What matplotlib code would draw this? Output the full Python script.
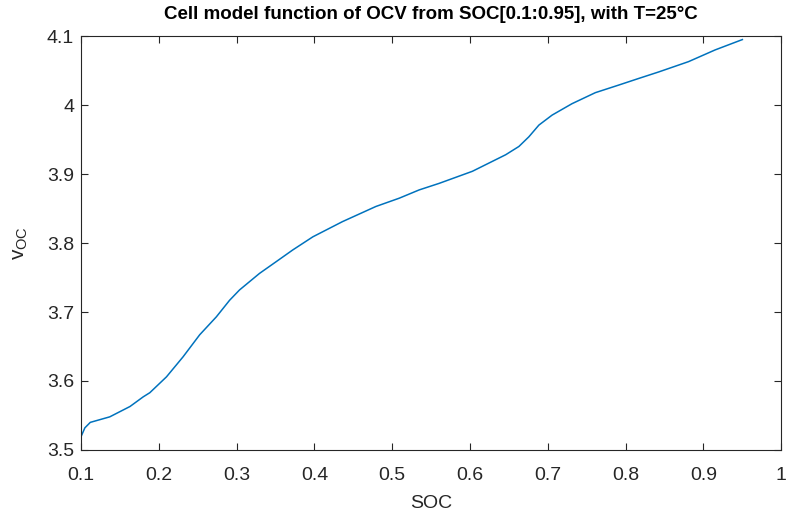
import matplotlib
matplotlib.use("Agg")
import matplotlib.pyplot as plt

plt.rcParams['font.family'] = ['Liberation Sans', 'DejaVu Sans']

# OCV curve sampled from the cell model at T = 25 degC
soc = [0.100, 0.105, 0.112, 0.137, 0.163, 0.180, 0.1885, 0.2099, 0.2312, 0.2526,
       0.274, 0.291, 0.3038, 0.3295, 0.3509, 0.3722, 0.398, 0.436, 0.479, 0.509,
       0.5346, 0.5603, 0.603, 0.6458, 0.6628, 0.6756, 0.6885, 0.7055, 0.731, 0.761,
       0.791, 0.8167, 0.8423, 0.8808, 0.915, 0.950]
ocv = [3.519, 3.532, 3.540, 3.548, 3.563, 3.577, 3.583, 3.606, 3.635, 3.667,
       3.693, 3.717, 3.732, 3.756, 3.773, 3.790, 3.809, 3.831, 3.853, 3.865,
       3.877, 3.8865, 3.904, 3.928, 3.940, 3.954, 3.971, 3.9855, 4.002, 4.018,
       4.029, 4.0386, 4.048, 4.063, 4.080, 4.095]

xticks = [0.1, 0.2, 0.3, 0.4, 0.5, 0.6, 0.7, 0.8, 0.9, 1.0]
xticklabels = ['0.1', '0.2', '0.3', '0.4', '0.5', '0.6', '0.7', '0.8', '0.9', '1']
yticks = [3.5, 3.6, 3.7, 3.8, 3.9, 4.0, 4.1]
yticklabels = ['3.5', '3.6', '3.7', '3.8', '3.9', '4', '4.1']

fig = plt.figure(figsize=(7.86, 5.16), dpi=100)
ax = fig.add_axes([0.103, 0.128, 0.891, 0.802])

ax.plot(soc, ocv, color='#0072BD', linewidth=1.1)

ax.set_xlim(0.1, 1.0)
ax.set_ylim(3.5, 4.1)
ax.set_xticks(xticks)
ax.set_xticklabels(xticklabels)
ax.set_yticks(yticks)
ax.set_yticklabels(yticklabels)

axis_col = '#262626'
for s in ax.spines.values():
    s.set_color(axis_col)
    s.set_linewidth(0.8)
ax.tick_params(direction='in', top=True, right=True, length=5, width=0.8,
               colors=axis_col, labelsize=14)
ax.tick_params(axis='x', pad=12.5)
ax.tick_params(axis='y', pad=5)

ax.set_title('Cell model function of OCV from SOC[0.1:0.95], with T=25\u00b0C',
             fontsize=13.5, fontweight='bold', color='black', pad=12)
ax.set_xlabel('SOC', fontsize=14, color=axis_col, labelpad=8)
ax.set_ylabel(r'$\mathregular{v_{OC}}$', fontsize=15, color=axis_col, labelpad=12)

fig.savefig('out.png', dpi=100, facecolor='white')
